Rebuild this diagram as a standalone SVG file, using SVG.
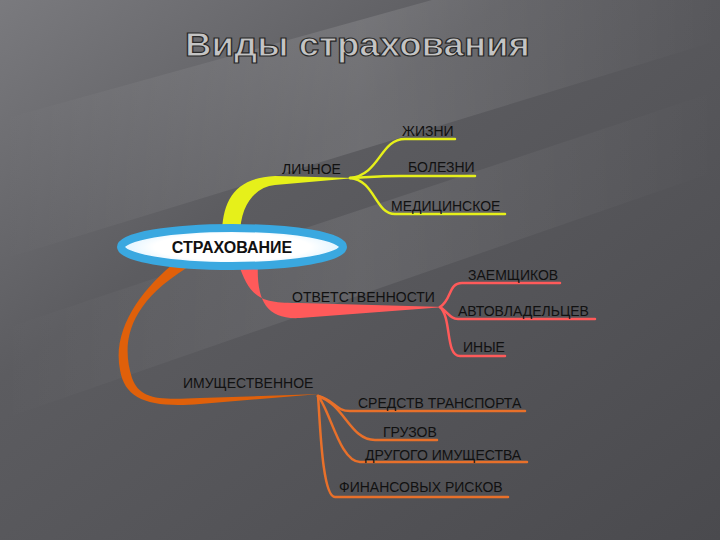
<svg xmlns="http://www.w3.org/2000/svg" width="720" height="540" viewBox="0 0 720 540">
<defs>
<linearGradient id="bg" x1="0" y1="0" x2="1" y2="1">
<stop offset="0" stop-color="#7a7a7e"/><stop offset="0.35" stop-color="#5c5c60"/><stop offset="1" stop-color="#4a4a4e"/>
</linearGradient>
<linearGradient id="streak" x1="0" y1="0" x2="1" y2="0">
<stop offset="0" stop-color="#fff" stop-opacity="0"/><stop offset="0.5" stop-color="#fff" stop-opacity="0.12"/><stop offset="1" stop-color="#fff" stop-opacity="0"/>
</linearGradient>
<radialGradient id="ell"><stop offset="0.7" stop-color="#fff"/><stop offset="1" stop-color="#dff3ff"/></radialGradient>
<style>
.t{font-family:"Liberation Sans",Arial,sans-serif;font-size:14px;fill:#111}
.y{fill:none;stroke:#e6f01a;stroke-width:2.5;stroke-linecap:round}
.r{fill:none;stroke:#ff5a5a;stroke-width:2.5;stroke-linecap:round}
.o{fill:none;stroke:#e8702a;stroke-width:2.5;stroke-linecap:round}
</style>
</defs>
<rect width="720" height="540" fill="url(#bg)"/>
<polygon points="0,120 720,-80 720,40 0,260" fill="url(#streak)"/>
<polygon points="0,330 720,90 720,170 0,420" fill="url(#streak)" opacity="0.7"/>
<text x="185" y="56" textLength="345" lengthAdjust="spacingAndGlyphs" font-family="Liberation Sans,Arial,sans-serif" font-weight="bold" font-size="33" fill="#c4c4c4" stroke="#2a2a2a" stroke-width="1.2">Виды страхования</text>
<g id="connectors">
<path d="M222,236 C222,200 235,178 275,176 L355,178 L275,185 C255,187 240,205 240,236 Z" fill="#e6f01a"/>
<path class="y" d="M350,178 C380,175 380,139 405,139 L455,139"/>
<path class="y" d="M350,178 C370,177 380,176 400,176 L475,176"/>
<path class="y" d="M350,178 C375,180 375,214 395,214 L505,214"/>
<path d="M238,262 C250,300 262,303 300,303 L445,307 L300,318 C266,320 256,300 258,262 Z" fill="#ff5a5a"/>
<path class="r" d="M440,307 C452,300 448,283 462,283 L560,283"/>
<path class="r" d="M440,307 C448,312 450,319 458,319 L595,319"/>
<path class="r" d="M440,307 C452,318 445,356 460,356 L505,356"/>
<path d="M195,263 C130,300 120,340 132,378 C140,400 160,400 200,398 L320,394 L200,404 C150,408 125,400 120,370 C112,330 140,290 178,260 Z" fill="#e0600a"/>
<path class="o" d="M318,396 C335,400 335,411 350,411 L525,411"/>
<path class="o" d="M318,396 C345,405 350,440 375,440 L437,440"/>
<path class="o" d="M318,396 C330,410 340,462 360,462 L527,462"/>
<path class="o" d="M318,396 C320,420 322,497 335,497 L508,497"/>
</g>
<g id="n-center">
<ellipse cx="232" cy="247" rx="111" ry="19" fill="url(#ell)" stroke="#3aa8e0" stroke-width="8"/>
<text x="232" y="253" text-anchor="middle" font-family="Liberation Sans,Arial,sans-serif" font-weight="bold" font-size="16" fill="#111">СТРАХОВАНИЕ</text>
</g>
<g id="n-lichnoe"><text class="t" x="282" y="174">ЛИЧНОЕ</text></g>
<g id="n-zhizni"><text class="t" x="402" y="136">ЖИЗНИ</text></g>
<g id="n-bolezni"><text class="t" x="408" y="172">БОЛЕЗНИ</text></g>
<g id="n-med"><text class="t" x="391" y="211">МЕДИЦИНСКОЕ</text></g>
<g id="n-otv"><text class="t" x="292" y="302">ОТВЕТСТВЕННОСТИ</text></g>
<g id="n-zaem"><text class="t" x="468" y="280">ЗАЕМЩИКОВ</text></g>
<g id="n-avto"><text class="t" x="458" y="316">АВТОВЛАДЕЛЬЦЕВ</text></g>
<g id="n-inye"><text class="t" x="463" y="352">ИНЫЕ</text></g>
<g id="n-imush"><text class="t" x="183" y="388">ИМУЩЕСТВЕННОЕ</text></g>
<g id="n-sredstv"><text class="t" x="358" y="408">СРЕДСТВ ТРАНСПОРТА</text></g>
<g id="n-gruzov"><text class="t" x="383" y="437">ГРУЗОВ</text></g>
<g id="n-drugogo"><text class="t" x="365" y="460">ДРУГОГО ИМУЩЕСТВА</text></g>
<g id="n-fin"><text class="t" x="339" y="492">ФИНАНСОВЫХ РИСКОВ</text></g>
</svg>
